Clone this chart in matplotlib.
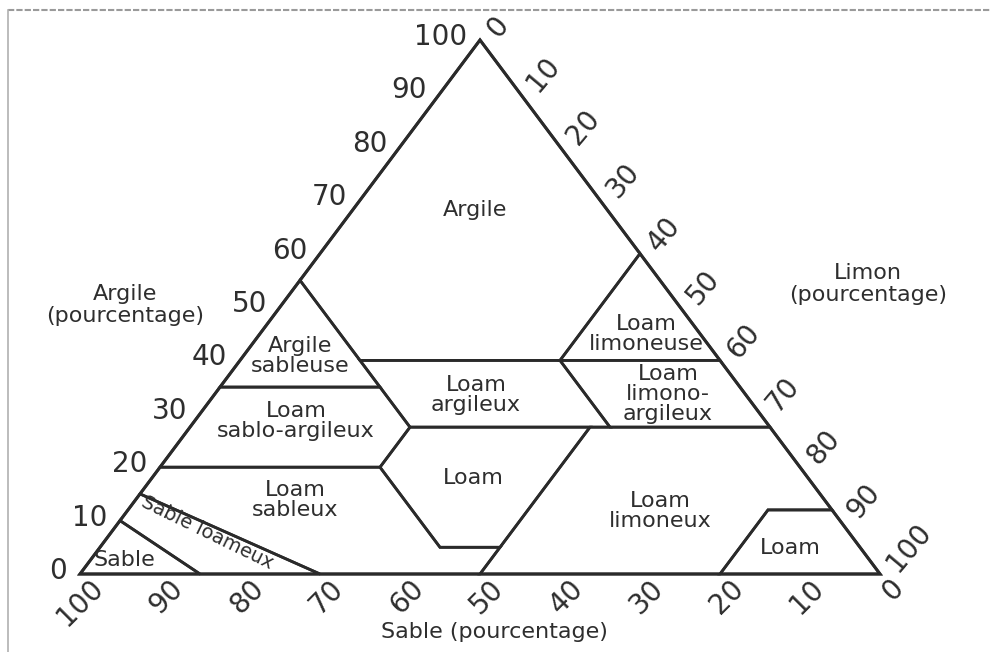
import matplotlib
matplotlib.use("Agg")
import matplotlib.pyplot as plt
from matplotlib.patches import Polygon
from matplotlib.transforms import offset_copy

# ---------------- data (sand, silt, clay) in percent ----------------
class_names = ["Argile", "Argile\nsableuse", "Loam\nsablo-argileux", "Loam\nsableux",
               "Loam\nargileux", "Loam", "Loam\nlimoneuse", "Loam\nlimono-\nargileux",
               "Loam\nlimoneux", "Loam", "Sable", "Sable loameux"]

clay_poly = [(0, 0, 100), (0, 40, 60), (20, 40, 40), (45, 15, 40), (45, 0, 55)]
sandy_clay_poly = [(45, 0, 55), (45, 20, 35), (65, 0, 35)]
silty_clay_poly = [(0, 40, 60), (0, 60, 40), (20, 40, 40)]
sandy_clay_loam_poly = [(65, 0, 35), (45, 20, 35), (45, 27.5, 27.5), (52.5, 27.5, 20), (80, 0, 20)]
clay_loam_poly = [(45, 15, 40), (20, 40, 40), (20, 52.5, 27.5), (45, 27.5, 27.5)]
silty_clay_loam_poly = [(20, 40, 40), (0, 60, 40), (0, 72.5, 27.5), (20, 52.5, 27.5)]
loam_poly = [(45, 27.5, 27.5), (22.5, 50, 27.5), (45, 50, 5), (52.5, 42.5, 5), (52.5, 27.5, 20)]
silt_loam_poly = [(22.5, 50, 27.5), (0, 72.5, 27.5), (0, 88, 12), (8, 80, 12), (20, 80, 0), (50, 50, 0)]
silt_poly = [(0, 88, 12), (8, 80, 12), (20, 80, 0), (0, 100, 0)]
sandy_loam_poly = [(80, 0, 20), (52.5, 27.5, 20), (52.5, 42.5, 5), (45, 50, 5), (50, 50, 0), (70, 30, 0), (85, 0, 15)]
loamy_sand_poly = [(85, 0, 15), (70, 30, 0), (85, 15, 0), (90, 0, 10)]
sand_poly = [(90, 0, 10), (85, 15, 0), (100, 0, 0)]

polygons = [clay_poly, sandy_clay_poly, silty_clay_poly, sandy_clay_loam_poly, clay_loam_poly,
            silty_clay_loam_poly, loam_poly, silt_loam_poly, silt_poly, sandy_loam_poly,
            loamy_sand_poly, sand_poly]

tick_values = [0, 10, 20, 30, 40, 50, 60, 70, 80, 90, 100]
axis_titles = ["Argile\n(pourcentage)", "Limon\n(pourcentage)", "Sable (pourcentage)"]

# ---------------- layout ----------------
W, H = 990, 652
LINE = "#2a2a2a"
TXT = "#2e2e2e"
FONT = "DejaVu Sans"
BL_Y, TOP_Y = 574, 40

fig = plt.figure(figsize=(W / 100, H / 100), dpi=100)
fig.patch.set_facecolor("white")
# triangle corners in pixels: bottom-left (80,574), bottom-right (880,574), apex (480,40)
ax = fig.add_axes([80 / W, (H - BL_Y) / H, 800 / W, (BL_Y - TOP_Y) / H])
ax.set_xlim(0, 100)
ax.set_ylim(0, 100)
ax.axis("off")

YS = (BL_Y - TOP_Y) / 100.0


def tern(sand, silt, clay):
    return silt + clay / 2.0, clay


def px(x, y):
    # pixel position (layout helper) -> data coords
    return (x - 80) / 8.0, (BL_Y - y) / YS


# outer triangle
outer = [tern(100, 0, 0), tern(0, 100, 0), tern(0, 0, 100)]
ax.add_patch(Polygon(outer, closed=True, fill=False, edgecolor=LINE, lw=2.2, clip_on=False))

for poly in polygons:
    pts = [tern(*p) for p in poly]
    ax.add_patch(Polygon(pts, closed=True, fill=False, edgecolor=LINE, lw=2.0,
                         joinstyle="miter", clip_on=False))

# region labels
label_pos = [(475, 210), (300, 356), (296, 421), (295, 500), (476, 395), (473, 478),
             (646, 334), (668, 394), (660, 511), (790, 548), (124, 560), (207, 533)]
for name, (lx, ly) in zip(class_names, label_pos):
    rot = -26 if name == "Sable loameux" else 0
    fs = 14 if name == "Sable loameux" else 16
    ax.text(*px(lx, ly), name, ha="center", va="center", fontsize=fs, color=TXT,
            family=FONT, rotation=rot, linespacing=1.0, rotation_mode="anchor")

# tick labels
for v in tick_values:
    # clay on left edge
    x, y = tern(100 - v, 0, v)
    tr = offset_copy(ax.transData, fig=fig, x=-13, y=3, units="dots")
    ax.text(x, y, str(v), transform=tr, ha="right", va="center", fontsize=20,
            color=TXT, family=FONT, clip_on=False)
    # silt on right edge
    x, y = tern(0, v, 100 - v)
    tr = offset_copy(ax.transData, fig=fig, x=12, y=6, units="dots")
    ax.text(x, y, str(v), transform=tr, ha="left", va="center", fontsize=20,
            color=TXT, family=FONT, rotation=50, rotation_mode="anchor", clip_on=False)
    # sand on bottom edge
    x, y = tern(v, 100 - v, 0)
    tr = offset_copy(ax.transData, fig=fig, x=19, y=-10, units="dots")
    ax.text(x, y, str(v), transform=tr, ha="right", va="center", fontsize=20,
            color=TXT, family=FONT, rotation=45, rotation_mode="anchor", clip_on=False)

# axis titles (figure pixel positions)
fig.text(125 / W, 1 - 305 / H, axis_titles[0], ha="center", va="center", fontsize=16,
         color=TXT, family=FONT, linespacing=1.15)
fig.text(868 / W, 1 - 284 / H, axis_titles[1], ha="center", va="center", fontsize=16,
         color=TXT, family=FONT, linespacing=1.15)
fig.text(494 / W, 1 - 632 / H, axis_titles[2], ha="center", va="center", fontsize=16,
         color=TXT, family=FONT)

# thin grey frame (top and left) as in the scanned image
fig.add_artist(plt.Line2D([8 / W, 1], [1 - 10 / H, 1 - 10 / H], transform=fig.transFigure,
                          color="#9a9a9a", lw=1.5, ls=(0, (3, 1))))
fig.add_artist(plt.Line2D([8 / W, 8 / W], [0, 1 - 10 / H], transform=fig.transFigure,
                          color="#b0b0b0", lw=1.2))

fig.savefig("out.png", dpi=100, facecolor="white")
